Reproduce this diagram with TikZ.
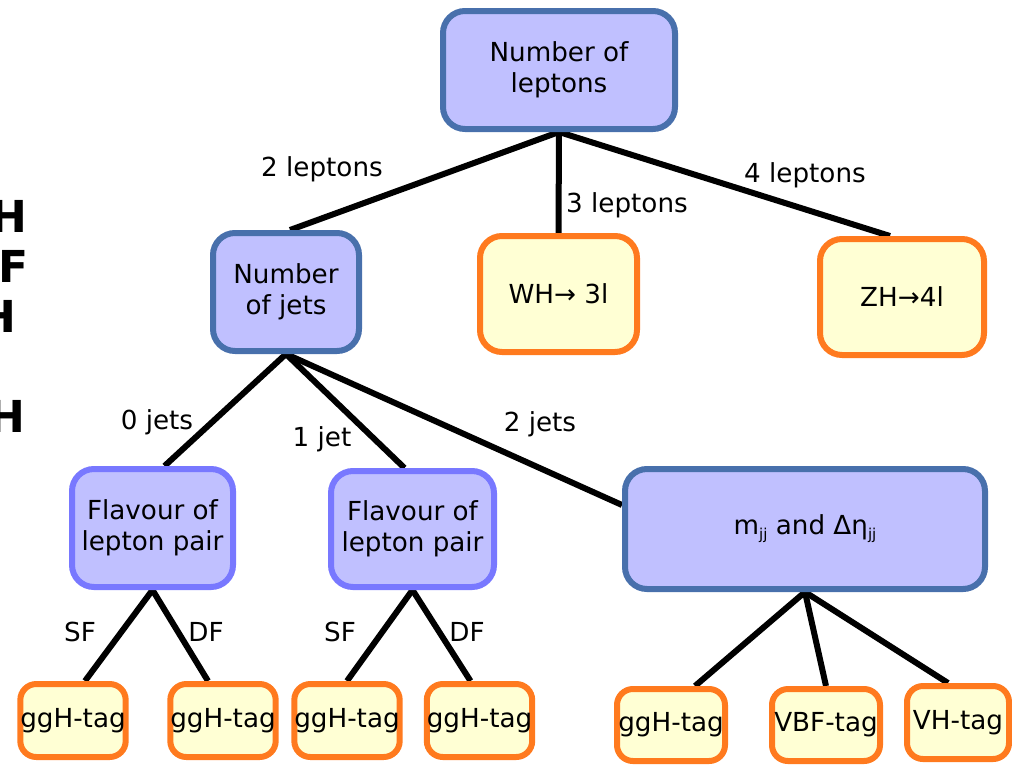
\documentclass[tikz,border=0pt]{standalone}
\usepackage{fontspec}
\setmainfont{DejaVu Sans}
\usetikzlibrary{calc,backgrounds}
\definecolor{bfill}{RGB}{192,192,255}
\definecolor{bdark}{RGB}{72,112,172}
\definecolor{blight}{RGB}{120,120,255}
\definecolor{ofill}{RGB}{255,255,212}
\definecolor{oedge}{RGB}{255,122,30}
\newcommand{\sbjj}{\raisebox{-0.35ex}{\fontsize{15}{15}\selectfont jj}}
\tikzset{
  box/.style={rounded corners=22pt, line width=6pt, inner sep=0pt, align=center,
     font=\fontsize{26.2}{31}\selectfont},
  qbox/.style={box, fill=bfill, draw=bdark},
  fbox/.style={box, fill=bfill, draw=blight},
  leaf/.style={box, fill=ofill, draw=oedge, rounded corners=16pt},
  conn/.style={line width=6pt, draw=black},
  lab/.style={font=\fontsize{26.2}{31}\selectfont, inner sep=0pt},
  frag/.style={font=\fontsize{44}{50}\selectfont\bfseries, inner sep=0pt, anchor=base east},
}
\begin{document}
\begin{tikzpicture}[x=1pt,y=-1pt]
\useasboundingbox (0,0) rectangle (1012,764);
% boxes
\node[qbox, minimum width=232pt, minimum height=118pt] (root) at (559,70) {Number of\\leptons};
\node[qbox, minimum width=146pt, minimum height=118pt] (jets) at (286,292) {Number\\of jets};
\node[leaf, rounded corners=22pt, minimum width=157pt, minimum height=116pt] (wh) at (558.5,294) {WH→ 3l};
\node[leaf, rounded corners=22pt, minimum width=164pt, minimum height=116pt] (zh) at (902,297) {ZH→4l};
\node[fbox, minimum width=161pt, minimum height=118pt] (fl1) at (152.5,528) {Flavour of\\lepton pair};
\node[fbox, minimum width=163pt, minimum height=116pt] (fl2) at (412.5,529) {Flavour of\\lepton pair};
\node[qbox, minimum width=360pt, minimum height=120pt] (mjj) at (805,529) {m\sbjj{} and Δη\sbjj};
\node[leaf, minimum width=100pt, minimum height=73pt] (g1) at (73,720.5) {ggH-tag};
\node[leaf, minimum width=104pt, minimum height=73pt] (g2) at (223,720.5) {ggH-tag};
\node[leaf, minimum width=104pt, minimum height=73pt] (g3) at (347,720.5) {ggH-tag};
\node[leaf, minimum width=99pt, minimum height=73pt] (g4) at (479.5,720.5) {ggH-tag};
\node[leaf, minimum width=108pt, minimum height=72pt] (g5) at (671,725) {ggH-tag};
\node[leaf, minimum width=108pt, minimum height=72pt] (vbf) at (826,725) {VBF-tag};
\node[leaf, minimum width=102pt, minimum height=73pt] (vh) at (958,722.5) {VH-tag};
% connectors
\begin{scope}[on background layer]
\draw[conn] (root.south) -- ([xshift=4pt]jets.north);
\draw[conn] (root.south) -- (wh.north);
\draw[conn] (root.south) -- ([xshift=-12pt]zh.north);
\draw[conn] (jets.south) -- ([xshift=12pt]fl1.north);
\draw[conn] (jets.south) -- ([xshift=-8pt]fl2.north);
\draw[conn] (jets.south) -- ([yshift=24pt]mjj.west);
\draw[conn] (fl1.south) -- ([xshift=12pt]g1.north);
\draw[conn] (fl1.south) -- ([xshift=-15pt]g2.north);
\draw[conn] (fl2.south) -- (g3.north);
\draw[conn] (fl2.south) -- ([xshift=-9pt]g4.north);
\draw[conn] (mjj.south) -- ([xshift=24pt]g5.north);
\draw[conn] (mjj.south) -- (vbf.north);
\draw[conn] (mjj.south) -- ([xshift=-10pt]vh.north);
\end{scope}
% labels
\node[lab] (l2) at (322,169) {2 leptons};
\node[lab] (l3) at (627,205) {3 leptons};
\node[lab] (l4) at (805,175) {4 leptons};
\node[lab] (j0) at (157,422) {0 jets};
\node[lab] (j1) at (322,439) {1 jet};
\node[lab] (j2) at (540,424) {2 jets};
\node[lab] (sf1) at (80,632) {SF};
\node[lab] (df1) at (206,632) {DF};
\node[lab] (sf2) at (340,632) {SF};
\node[lab] (df2) at (467,632) {DF};
% cut-off fragments at left edge (as in the reference)
\node[frag] (fa) at (28,232) {H};
\node[frag] (fb) at (29,282) {F};
\node[frag] (fc) at (17,332) {H};
\node[frag] (fd) at (26,432) {H};
\end{tikzpicture}
\end{document}
